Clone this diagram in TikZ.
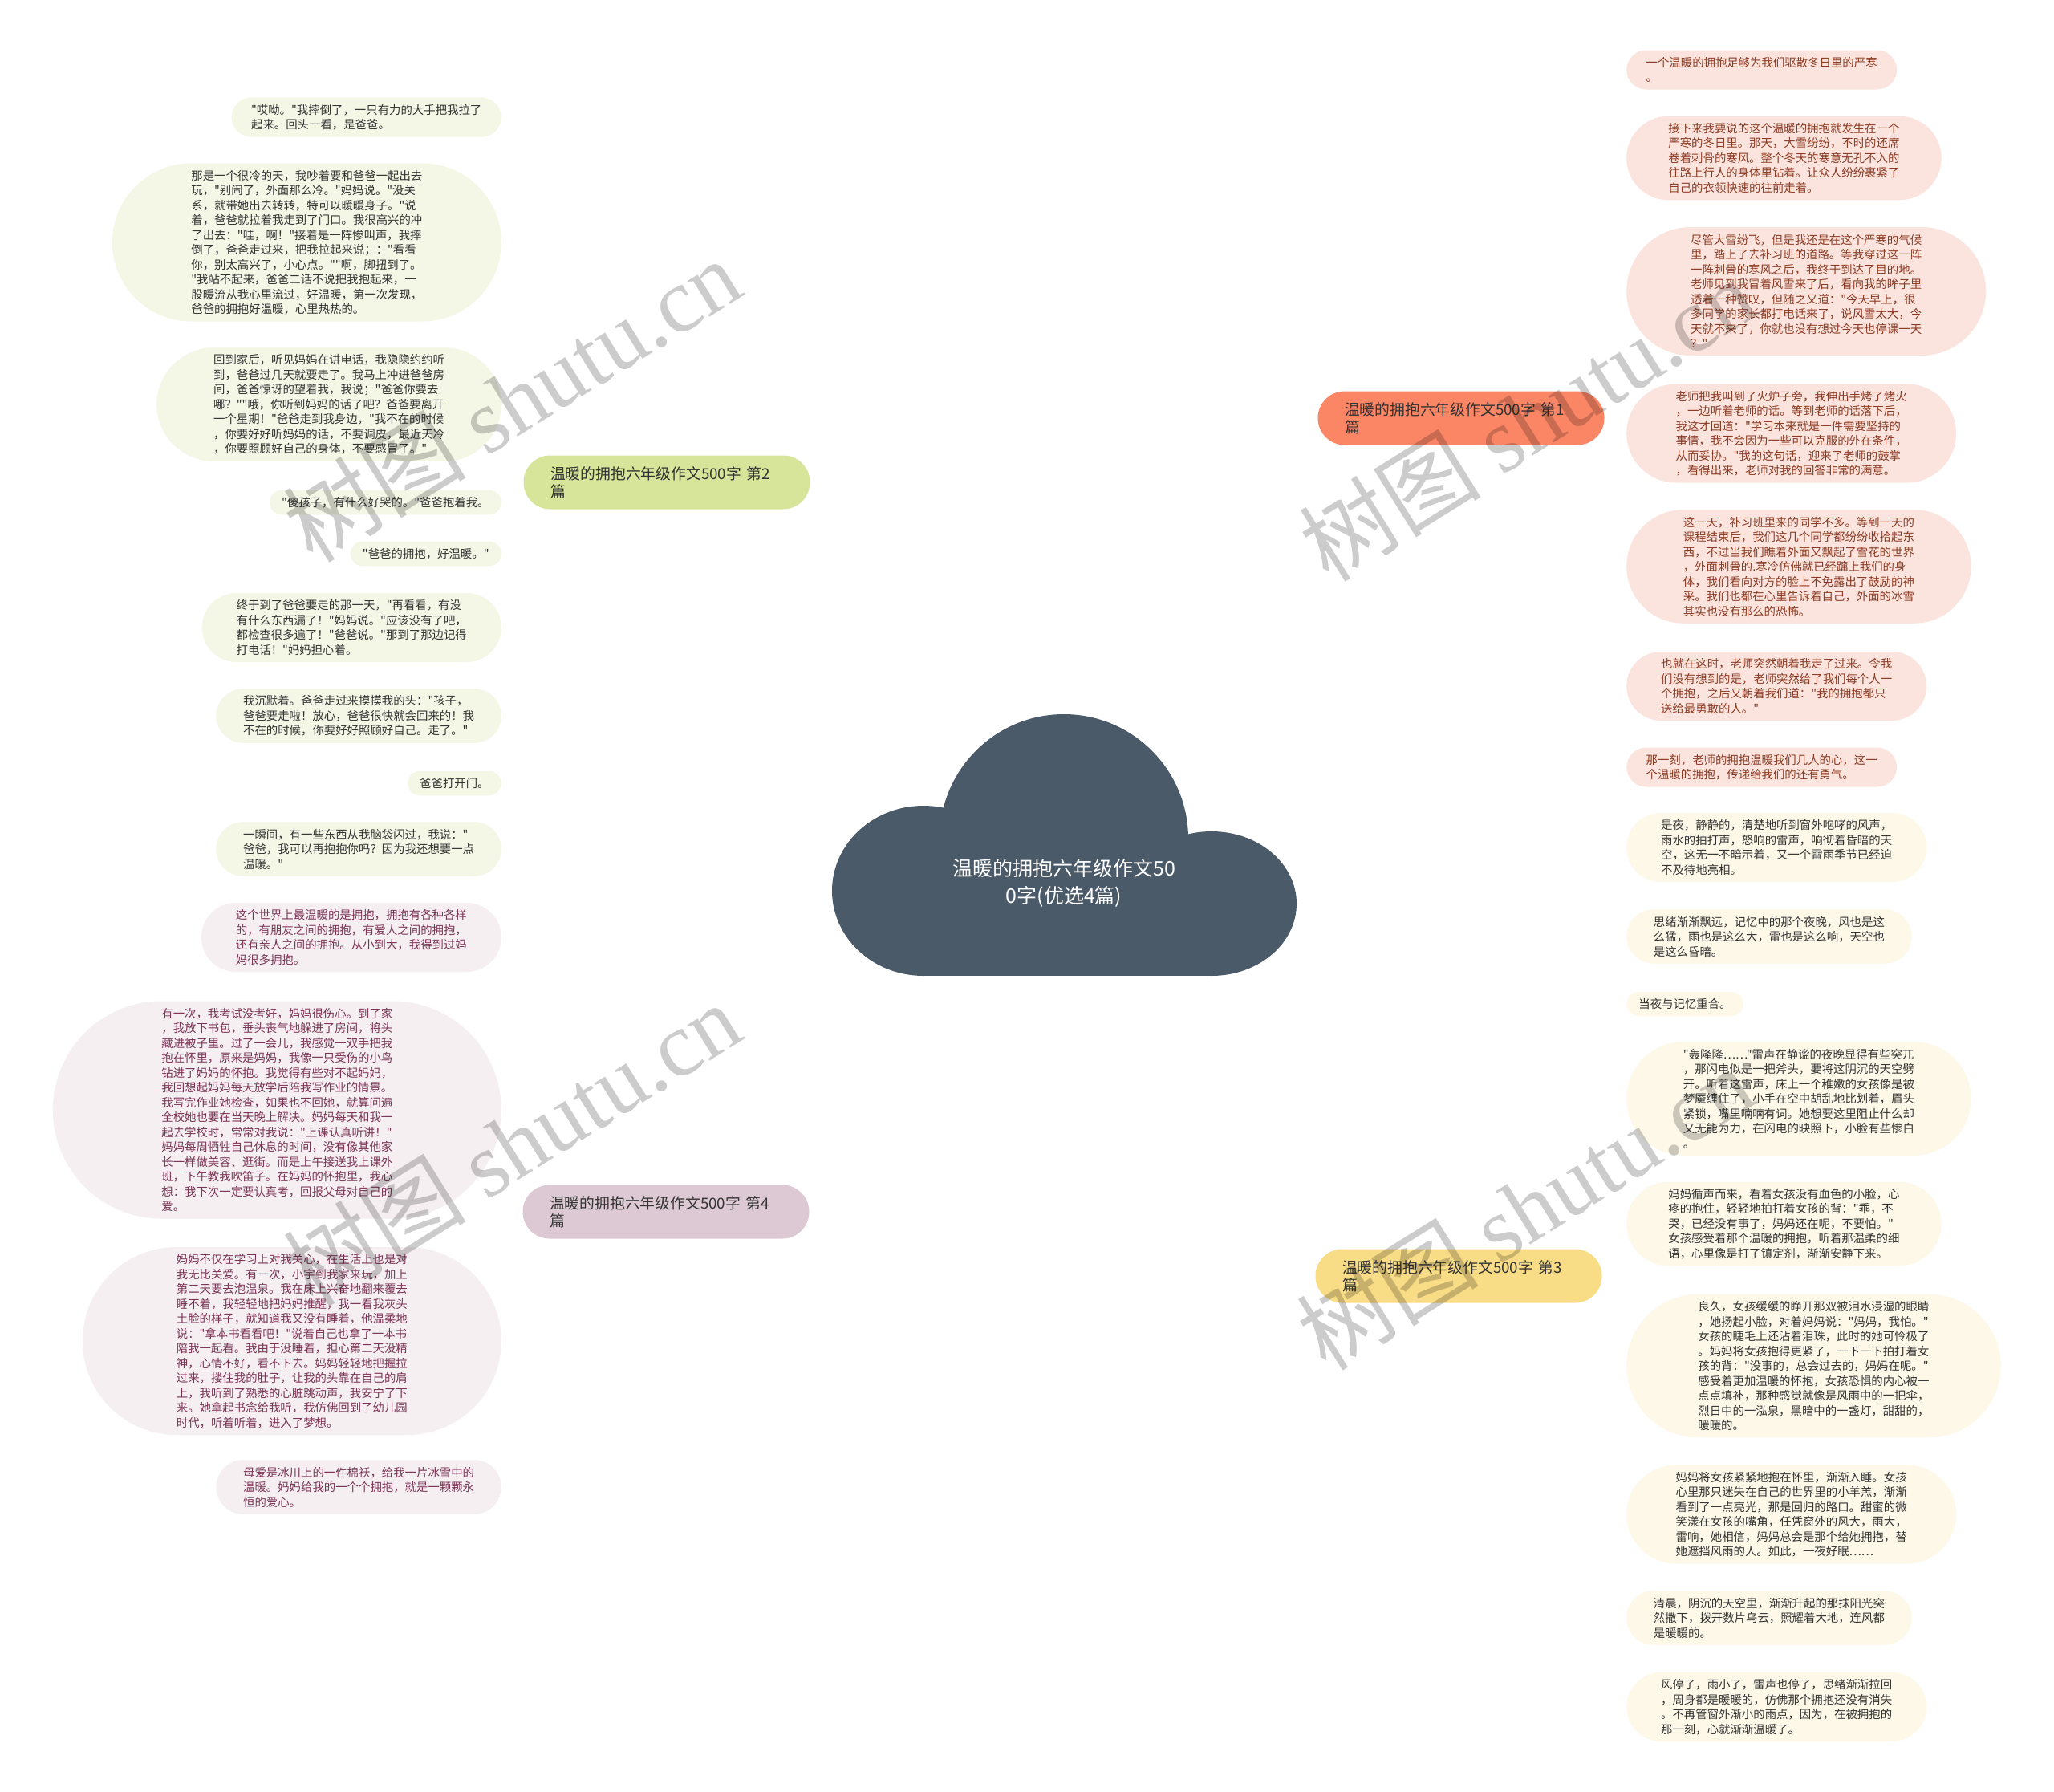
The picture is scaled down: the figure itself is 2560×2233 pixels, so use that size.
\documentclass[tikz,border=0pt]{standalone}
\usepackage{fontspec}
\newfontfamily\cjk{Noto Sans CJK SC}
\newfontfamily\wmserif{Liberation Serif}
\definecolor{cloudc}{HTML}{4B5A69}
\definecolor{bOne}{HTML}{FA8665}
\definecolor{bOneL}{HTML}{EE8668}
\definecolor{bOneF}{HTML}{FCE4DE}
\definecolor{bOneT}{HTML}{8A3A22}
\definecolor{bTwo}{HTML}{D6E59A}
\definecolor{bTwoL}{HTML}{CDDF8E}
\definecolor{bTwoF}{HTML}{F4F6E6}
\definecolor{bThree}{HTML}{F8DD86}
\definecolor{bThreeL}{HTML}{EFD37A}
\definecolor{bThreeF}{HTML}{FDF8E8}
\definecolor{bFour}{HTML}{DCC9D3}
\definecolor{bFourL}{HTML}{CDB4C1}
\definecolor{bFourF}{HTML}{F5EFF2}
\definecolor{bFourT}{HTML}{7A3455}
\definecolor{txt}{HTML}{333333}
\pgfdeclarelayer{bg}
\pgfsetlayers{bg,main}
% style, name, anchor, position, number of lines, text
\newcommand\mkleaf[6]{%
  \pgfmathsetmacro\lh{18.5*#5+12}%
  \pgfmathsetmacro\lr{\lh/2-0.05}%
  \node[#1, anchor=#3, minimum height=\lh pt, inner xsep=\lr pt, rounded corners=\lr pt] (#2) at (#4) {#6};%
}
\begin{document}
\begin{tikzpicture}[x=1pt,y=-1pt,
  leaf/.style={rectangle, inner ysep=0pt, align=left,
     font=\cjk\fontsize{14.4pt}{18.5pt}\selectfont},
  lA/.style={leaf, fill=bOneF, text=bOneT},
  lB/.style={leaf, fill=bTwoF, text=txt},
  lC/.style={leaf, fill=bThreeF, text=txt},
  lD/.style={leaf, fill=bFourF, text=bFourT},
  branch/.style={rectangle, rounded corners=33.4pt, minimum height=67pt, text width=290pt,
     inner xsep=33.5pt, inner ysep=0pt, align=left,
     text=txt, font=\cjk\fontsize{18.8pt}{22pt}\selectfont},
  cA/.style={draw=bOneL, line width=2pt},
  cB/.style={draw=bTwoL, line width=2pt},
  cC/.style={draw=bThreeL, line width=2pt},
  cD/.style={draw=bFourL, line width=2pt},
  wm/.style={text=black, text opacity=0.2, font=\cjk\fontsize{114pt}{114pt}\selectfont, rotate=32}
]
\useasboundingbox (0,0) rectangle (2560,2233);
\fill[white] (0,0) rectangle (2560,2233);

% cloud
\fill[cloudc] (1326,1045) circle[radius=155pt];
\fill[cloudc] (1151,1110) ellipse[x radius=114pt, y radius=106pt];
\fill[cloudc] (1510,1126) ellipse[x radius=106pt, y radius=90pt];
\fill[cloudc] (1150,1045) rectangle (1510,1216);
\node[text=white, align=center, font=\cjk\fontsize{25pt}{34pt}\selectfont] (ctr) at (1326,1100) {温暖的拥抱六年级作文50\\0字(优选4篇)};
\coordinate (cW) at (1060,1100);
\coordinate (cE) at (1595,1100);

% branches
\node[branch, fill=bOne] (b1) at (1821,521) {温暖的拥抱六年级作文500字 第1\\篇};
\node[branch, fill=bTwo] (b2) at (831,601) {温暖的拥抱六年级作文500字 第2\\篇};
\node[branch, fill=bThree] (b3) at (1818,1590) {温暖的拥抱六年级作文500字 第3\\篇};
\node[branch, fill=bFour] (b4) at (830,1510) {温暖的拥抱六年级作文500字 第4\\篇};

% branch 2 leaves
\mkleaf{lB}{L2a}{east}{625,146}{2}{"哎呦。"我摔倒了，一只有力的大手把我拉了\\起来。回头一看，是爸爸。}
\mkleaf{lB}{L2b}{east}{625,302}{10}{那是一个很冷的天，我吵着要和爸爸一起出去\\玩，"别闹了，外面那么冷。"妈妈说。"没关\\系，就带她出去转转，特可以暖暖身子。"说\\着，爸爸就拉着我走到了门口。我很高兴的冲\\了出去："哇，啊！"接着是一阵惨叫声，我摔\\倒了，爸爸走过来，把我拉起来说；："看看\\你，别太高兴了，小心点。""啊，脚扭到了。\\"我站不起来，爸爸二话不说把我抱起来，一\\股暖流从我心里流过，好温暖，第一次发现，\\爸爸的拥抱好温暖，心里热热的。}
\mkleaf{lB}{L2c}{east}{625,504}{7}{回到家后，听见妈妈在讲电话，我隐隐约约听\\到，爸爸过几天就要走了。我马上冲进爸爸房\\间，爸爸惊讶的望着我，我说；"爸爸你要去\\哪？""哦，你听到妈妈的话了吧？爸爸要离开\\一个星期！"爸爸走到我身边，"我不在的时候\\，你要好好听妈妈的话，不要调皮，最近天冷\\，你要照顾好自己的身体，不要感冒了。"}
\mkleaf{lB}{L2d}{east}{625,626}{1}{"傻孩子，有什么好哭的。"爸爸抱着我。}
\mkleaf{lB}{L2e}{east}{625,690}{1}{"爸爸的拥抱，好温暖。"}
\mkleaf{lB}{L2f}{east}{625,782}{4}{终于到了爸爸要走的那一天，"再看看，有没\\有什么东西漏了！"妈妈说。"应该没有了吧，\\都检查很多遍了！"爸爸说。"那到了那边记得\\打电话！"妈妈担心着。}
\mkleaf{lB}{L2g}{east}{625,892}{3}{我沉默着。爸爸走过来摸摸我的头："孩子，\\爸爸要走啦！放心，爸爸很快就会回来的！我\\不在的时候，你要好好照顾好自己。走了。"}
\mkleaf{lB}{L2h}{east}{625,976}{1}{爸爸打开门。}
\mkleaf{lB}{L2i}{east}{625,1058}{3}{一瞬间，有一些东西从我脑袋闪过，我说："\\爸爸，我可以再抱抱你吗？因为我还想要一点\\温暖。"}

% branch 4 leaves
\mkleaf{lD}{L4a}{east}{625,1168}{4}{这个世界上最温暖的是拥抱，拥抱有各种各样\\的，有朋友之间的拥抱，有爱人之间的拥抱，\\还有亲人之间的拥抱。从小到大，我得到过妈\\妈很多拥抱。}
\mkleaf{lD}{L4b}{east}{625,1383}{14}{有一次，我考试没考好，妈妈很伤心。到了家\\，我放下书包，垂头丧气地躲进了房间，将头\\藏进被子里。过了一会儿，我感觉一双手把我\\抱在怀里，原来是妈妈，我像一只受伤的小鸟\\钻进了妈妈的怀抱。我觉得有些对不起妈妈，\\我回想起妈妈每天放学后陪我写作业的情景。\\我写完作业她检查，如果也不回她，就算问遍\\全校她也要在当天晚上解决。妈妈每天和我一\\起去学校时，常常对我说："上课认真听讲！"\\妈妈每周牺牲自己休息的时间，没有像其他家\\长一样做美容、逛街。而是上午接送我上课外\\班，下午教我吹笛子。在妈妈的怀抱里，我心\\想：我下次一定要认真考，回报父母对自己的\\爱。}
\mkleaf{lD}{L4c}{east}{625,1671}{12}{妈妈不仅在学习上对我关心，在生活上也是对\\我无比关爱。有一次，小宇到我家来玩，加上\\第二天要去泡温泉。我在床上兴奋地翻来覆去\\睡不着，我轻轻地把妈妈推醒，我一看我灰头\\土脸的样子，就知道我又没有睡着，他温柔地\\说："拿本书看看吧！"说着自己也拿了一本书\\陪我一起看。我由于没睡着，担心第二天没精\\神，心情不好，看不下去。妈妈轻轻地把握拉\\过来，搂住我的肚子，让我的头靠在自己的肩\\上，我听到了熟悉的心脏跳动声，我安宁了下\\来。她拿起书念给我听，我仿佛回到了幼儿园\\时代，听着听着，进入了梦想。}
\mkleaf{lD}{L4d}{east}{625,1853}{3}{母爱是冰川上的一件棉袄，给我一片冰雪中的\\温暖。妈妈给我的一个个拥抱，就是一颗颗永\\恒的爱心。}

% branch 1 leaves
\mkleaf{lA}{R1a}{west}{2027,87}{2}{一个温暖的拥抱足够为我们驱散冬日里的严寒\\。}
\mkleaf{lA}{R1b}{west}{2027,197}{5}{接下来我要说的这个温暖的拥抱就发生在一个\\严寒的冬日里。那天，大雪纷纷，不时的还席\\卷着刺骨的寒风。整个冬天的寒意无孔不入的\\往路上行人的身体里钻着。让众人纷纷裹紧了\\自己的衣领快速的往前走着。}
\mkleaf{lA}{R1c}{west}{2027,363}{8}{尽管大雪纷飞，但是我还是在这个严寒的气候\\里，踏上了去补习班的道路。等我穿过这一阵\\一阵刺骨的寒风之后，我终于到达了目的地。\\老师见到我冒着风雪来了后，看向我的眸子里\\透着一种赞叹，但随之又道："今天早上，很\\多同学的家长都打电话来了，说风雪太大，今\\天就不来了，你就也没有想过今天也停课一天\\？"}
\mkleaf{lA}{R1d}{west}{2027,540}{6}{老师把我叫到了火炉子旁，我伸出手烤了烤火\\，一边听着老师的话。等到老师的话落下后，\\我这才回道："学习本来就是一件需要坚持的\\事情，我不会因为一些可以克服的外在条件，\\从而妥协。"我的这句话，迎来了老师的鼓掌\\，看得出来，老师对我的回答非常的满意。}
\mkleaf{lA}{R1e}{west}{2027,706}{7}{这一天，补习班里来的同学不多。等到一天的\\课程结束后，我们这几个同学都纷纷收拾起东\\西，不过当我们瞧着外面又飘起了雪花的世界\\，外面刺骨的.寒冷仿佛就已经蹿上我们的身\\体，我们看向对方的脸上不免露出了鼓励的神\\采。我们也都在心里告诉着自己，外面的冰雪\\其实也没有那么的恐怖。}
\mkleaf{lA}{R1f}{west}{2027,855}{4}{也就在这时，老师突然朝着我走了过来。令我\\们没有想到的是，老师突然给了我们每个人一\\个拥抱，之后又朝着我们道："我的拥抱都只\\送给最勇敢的人。"}
\mkleaf{lA}{R1g}{west}{2027,956}{2}{那一刻，老师的拥抱温暖我们几人的心，这一\\个温暖的拥抱，传递给我们的还有勇气。}

% branch 3 leaves
\mkleaf{lC}{R3a}{west}{2027,1056}{4}{是夜，静静的，清楚地听到窗外咆哮的风声，\\雨水的拍打声，怒响的雷声，响彻着昏暗的天\\空，这无一不暗示着，又一个雷雨季节已经迫\\不及待地亮相。}
\mkleaf{lC}{R3b}{west}{2027,1167}{3}{思绪渐渐飘远，记忆中的那个夜晚，风也是这\\么猛，雨也是这么大，雷也是这么响，天空也\\是这么昏暗。}
\mkleaf{lC}{R3c}{west}{2027,1251}{1}{当夜与记忆重合。}
\mkleaf{lC}{R3d}{west}{2027,1369}{7}{"轰隆隆……"雷声在静谧的夜晚显得有些突兀\\，那闪电似是一把斧头，要将这阴沉的天空劈\\开。听着这雷声，床上一个稚嫩的女孩像是被\\梦魇缠住了，小手在空中胡乱地比划着，眉头\\紧锁，嘴里喃喃有词。她想要这里阻止什么却\\又无能为力，在闪电的映照下，小脸有些惨白\\。}
\mkleaf{lC}{R3e}{west}{2027,1525}{5}{妈妈循声而来，看着女孩没有血色的小脸，心\\疼的抱住，轻轻地拍打着女孩的背："乖，不\\哭，已经没有事了，妈妈还在呢，不要怕。"\\女孩感受着那个温暖的拥抱，听着那温柔的细\\语，心里像是打了镇定剂，渐渐安静下来。}
\mkleaf{lC}{R3f}{west}{2027,1702}{9}{良久，女孩缓缓的睁开那双被泪水浸湿的眼睛\\，她扬起小脸，对着妈妈说："妈妈，我怕。"\\女孩的睫毛上还沾着泪珠，此时的她可怜极了\\。妈妈将女孩抱得更紧了，一下一下拍打着女\\孩的背："没事的，总会过去的，妈妈在呢。"\\感受着更加温暖的怀抱，女孩恐惧的内心被一\\点点填补，那种感觉就像是风雨中的一把伞，\\烈日中的一泓泉，黑暗中的一盏灯，甜甜的，\\暖暖的。}
\mkleaf{lC}{R3g}{west}{2027,1887}{6}{妈妈将女孩紧紧地抱在怀里，渐渐入睡。女孩\\心里那只迷失在自己的世界里的小羊羔，渐渐\\看到了一点亮光，那是回归的路口。甜蜜的微\\笑漾在女孩的嘴角，任凭窗外的风大，雨大，\\雷响，她相信，妈妈总会是那个给她拥抱，替\\她遮挡风雨的人。如此，一夜好眠……}
\mkleaf{lC}{R3h}{west}{2027,2016}{3}{清晨，阴沉的天空里，渐渐升起的那抹阳光突\\然撒下，拨开数片乌云，照耀着大地，连风都\\是暖暖的。}
\mkleaf{lC}{R3i}{west}{2027,2127}{4}{风停了，雨小了，雷声也停了，思绪渐渐拉回\\，周身都是暖暖的，仿佛那个拥抱还没有消失\\。不再管窗外渐小的雨点，因为，在被拥抱的\\那一刻，心就渐渐温暖了。}

% connectors
\begin{pgfonlayer}{bg}
\draw[cA, line width=3pt] (cE) .. controls +(24,0) and +(-24,0) .. (b1.west);
\draw[cC, line width=3pt] (cE) .. controls +(24,0) and +(-24,0) .. (b3.west);
\draw[cB, line width=3pt] (cW) .. controls +(-25,0) and +(25,0) .. (b2.east);
\draw[cD, line width=3pt] (cW) .. controls +(-25,0) and +(25,0) .. (b4.east);
\foreach \n in {L2a,L2b,L2c,L2d,L2e,L2f,L2g,L2h,L2i}
  \draw[cB] (b2.west) .. controls +(-14,0) and +(14,0) .. (\n.east);
\foreach \n in {L4a,L4b,L4c,L4d}
  \draw[cD] (b4.west) .. controls +(-14,0) and +(14,0) .. (\n.east);
\foreach \n in {R1a,R1b,R1c,R1d,R1e,R1f,R1g}
  \draw[cA] (b1.east) .. controls +(14,0) and +(-14,0) .. (\n.west);
\foreach \n in {R3a,R3b,R3c,R3d,R3e,R3f,R3g,R3h,R3i}
  \draw[cC] (b3.east) .. controls +(14,0) and +(-14,0) .. (\n.west);
\end{pgfonlayer}

% watermarks
\node[wm] (wm1) at (638,498) {树图 {\wmserif shutu.cn}};
\node[wm] (wm2) at (1903,522) {树图 {\wmserif shutu.cn}};
\node[wm] (wm3) at (638,1425) {树图 {\wmserif shutu.cn}};
\node[wm] (wm4) at (1900,1505) {树图 {\wmserif shutu.cn}};
\end{tikzpicture}
\end{document}
